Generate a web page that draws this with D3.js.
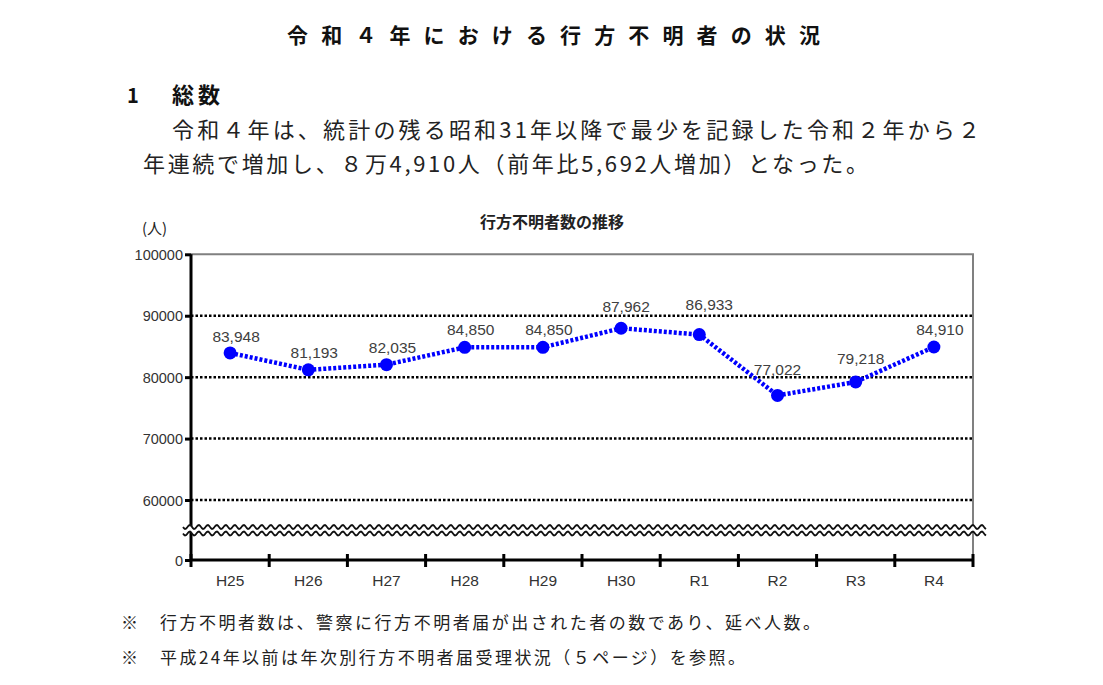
<!DOCTYPE html>
<html><head><meta charset="utf-8">
<script src="https://cdn.jsdelivr.net/npm/d3@7/dist/d3.min.js"></script>
<style>
html,body{margin:0;padding:0;background:#fff;}
svg{display:block;}
</style></head>
<body>
<svg id="c" width="1103" height="685"></svg>
<script>
// ---- data ----
const categories = ["H25","H26","H27","H28","H29","H30","R1","R2","R3","R4"];
const missingPersons = [83948, 81193, 82035, 84850, 84850, 87962, 86933, 77022, 79218, 84910];
const yTickValues = [0, 60000, 70000, 80000, 90000, 100000];
const yTickLabels = ["0","60000","70000","80000","90000","100000"];
const pageTitle = "令和４年における行方不明者の状況";
const sectionNo = "1";
const sectionTitle = "総数";
const bodyLines = ["令和４年は、統計の残る昭和31年以降で最少を記録した令和２年から２",
                   "年連続で増加し、８万4,910人（前年比5,692人増加）となった。"];
const chartTitle = "行方不明者数の推移";
const unitLabel = "(人)";
const notes = ["行方不明者数は、警察に行方不明者届が出された者の数であり、延べ人数。",
               "平成24年以前は年次別行方不明者届受理状況（５ページ）を参照。"];

// ---- layout (label nudges as placed in the original) ----
const labelNudge = [[6,-11],[6,-12],[6,-12],[6,-12],[6,-12],[5,-16],[10,-25],[0,-20],[5,-18],[6,-12]];

(function(){
const svg = d3.select("#c");
const JP = "'Noto Sans CJK JP','Noto Sans CJK SC',sans-serif";
const SANS = "'Liberation Sans',Arial,sans-serif";

// header texts
svg.append("text").attr("x",287).attr("y",43).attr("font-family",JP).attr("font-weight","bold")
  .attr("font-size",21).attr("fill","#111").attr("textLength",533).attr("lengthAdjust","spacing").text(pageTitle);
svg.append("text").attr("x",127).attr("y",103).attr("font-family",JP).attr("font-weight","bold")
  .attr("font-size",20).attr("fill","#111").text(sectionNo);
svg.append("text").attr("x",172).attr("y",103).attr("font-family",JP).attr("font-weight","bold")
  .attr("font-size",22).attr("fill","#111").attr("textLength",48).attr("lengthAdjust","spacing").text(sectionTitle);
svg.append("text").attr("x",172).attr("y",138).attr("font-family",JP)
  .attr("font-size",22).attr("fill","#222").attr("textLength",808).attr("lengthAdjust","spacing").text(bodyLines[0]);
svg.append("text").attr("x",143).attr("y",172).attr("font-family",JP)
  .attr("font-size",22).attr("fill","#222").attr("textLength",725).attr("lengthAdjust","spacing").text(bodyLines[1]);

// chart
const x = d3.scaleBand().domain(categories).range([191, 973]);
const y = d3.scaleLinear().domain([0, 60000, 100000]).range([560, 500, 254.3]);
const pl = 191, pr = 973, pt = y(100000), pb = y(0);

svg.append("text").attr("x",552).attr("y",228).attr("text-anchor","middle").attr("font-family",JP)
  .attr("font-weight","bold").attr("font-size",16).attr("fill","#222").text(chartTitle);
svg.append("text").attr("x",142).attr("y",234).attr("font-family",JP)
  .attr("font-size",15).attr("fill","#222").text(unitLabel);

// frame (gray top & right)
svg.append("path").attr("d",`M${pl},${pt}H${pr}V${pb}`).attr("fill","none")
  .attr("stroke","#808080").attr("stroke-width",2);

// gridlines dotted
svg.append("g").selectAll("line").data(yTickValues.filter(v=>v>0 && v<100000)).join("line")
  .attr("x1",pl).attr("x2",pr).attr("y1",d=>y(d)).attr("y2",d=>y(d))
  .attr("stroke","#000").attr("stroke-width",2.5).attr("stroke-dasharray","2.5,2");

// y axis
const yAxis = d3.axisLeft(y).tickValues(yTickValues).tickSize(6).tickPadding(2)
  .tickFormat((d,i)=>yTickLabels[i]);
const gy = svg.append("g").attr("transform",`translate(${pl},0)`).call(yAxis);
gy.select(".domain").attr("stroke","#000").attr("stroke-width",3).attr("d",`M0,${pt}V${pb}`);
gy.selectAll(".tick line").attr("stroke","#000").attr("stroke-width",3);
gy.selectAll(".tick text").attr("font-family",SANS).attr("font-size",14.5).attr("fill","#333").attr("dy","0.35em");

// x axis
const gx = svg.append("g").attr("transform",`translate(0,${pb})`)
  .call(d3.axisBottom(x).tickSize(0).tickPadding(15));
gx.select(".domain").attr("stroke","#000").attr("stroke-width",3).attr("d",`M${pl},0H${pr}`);
gx.selectAll(".tick text").attr("font-family",SANS).attr("font-size",15.5).attr("fill","#333");
const bounds = categories.map(c=>x(c)).concat([pr]);
svg.append("g").selectAll("line").data(bounds).join("line")
  .attr("x1",d=>d).attr("x2",d=>d).attr("y1",pb-6).attr("y2",pb+7)
  .attr("stroke","#000").attr("stroke-width",3);

// axis break (wavy double line)
const y1w = 527, y2w = 533.5, period = 9, amp = 2;
function wave(yc){
  const pts=[];
  for(let px=183; px<=986; px+=1) pts.push([px, yc + amp*Math.sin((px-183)/period*2*Math.PI)]);
  return d3.line()(pts);
}
const bandPts=[];
for(let px=183; px<=986; px+=1) bandPts.push([px, y1w + amp*Math.sin((px-183)/period*2*Math.PI)]);
for(let px=986; px>=183; px-=1) bandPts.push([px, y2w + amp*Math.sin((px-183)/period*2*Math.PI)]);
svg.append("path").attr("d",d3.line()(bandPts)+"Z").attr("fill","#fff");
svg.append("path").attr("d",wave(y1w)).attr("fill","none").attr("stroke","#111").attr("stroke-width",1.8);
svg.append("path").attr("d",wave(y2w)).attr("fill","none").attr("stroke","#111").attr("stroke-width",1.8);

// series
const data = categories.map((c,i)=>({c, v:missingPersons[i], i}));
const cx = d=>x(d.c)+x.bandwidth()/2;
svg.append("path").datum(data)
  .attr("d", d3.line().x(cx).y(d=>y(d.v)))
  .attr("fill","none").attr("stroke","#0000ff").attr("stroke-width",4.5).attr("stroke-dasharray","3,2");
svg.append("g").selectAll("circle").data(data).join("circle")
  .attr("cx",cx).attr("cy",d=>y(d.v)).attr("r",6.5).attr("fill","#0000ff");
svg.append("g").selectAll("text").data(data).join("text")
  .attr("x",d=>cx(d)+labelNudge[d.i][0]).attr("y",d=>y(d.v)+labelNudge[d.i][1])
  .attr("text-anchor","middle").attr("font-family",SANS).attr("font-size",15.5).attr("fill","#404040")
  .text(d=>d3.format(",")(d.v));

// notes
notes.forEach((n,i)=>{
  const yy = 629 + i*35;
  svg.append("text").attr("x",121).attr("y",yy).attr("font-family",JP).attr("font-size",17).attr("fill","#222").text("※");
  svg.append("text").attr("x",160).attr("y",yy).attr("font-family",JP).attr("font-size",17).attr("fill","#222")
    .attr("textLength", i===0?660:585).attr("lengthAdjust","spacing").text(n);
});
})();
</script>
</body></html>
